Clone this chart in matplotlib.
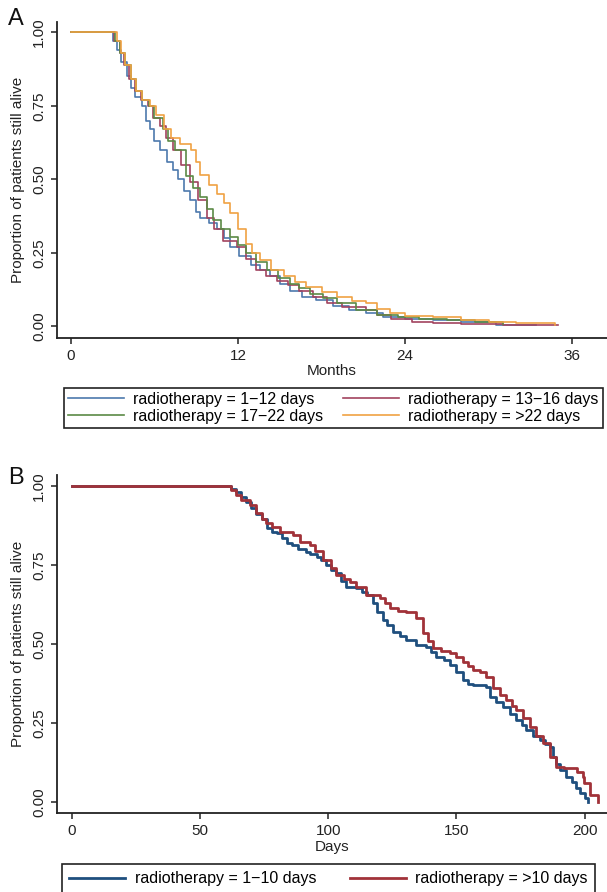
import numpy as np
import matplotlib
matplotlib.use('Agg')
import matplotlib.pyplot as plt

plt.rcParams['font.family'] = ['Liberation Sans', 'DejaVu Sans']

# ---- panel A: survival by radiotherapy duration, months ----
a_labels = ['radiotherapy = 1\u221212 days', 'radiotherapy = 13\u221216 days',
            'radiotherapy = 17\u221222 days', 'radiotherapy = >22 days']

a1_t = [0, 2.7, 3.0, 3.3, 3.6, 4.0, 4.3, 4.6, 5.1, 5.4, 5.7, 6.0, 6.4, 6.9, 7.35, 7.7, 8.1, 8.55,
        9.0, 9.3, 9.9, 10.5, 11.0, 11.4, 12.1, 12.9, 13.6, 14.3, 15.0, 15.7, 16.6, 17.6, 18.8,
        20.0, 21.2, 22.4, 24.0, 26.0, 28.0, 30.5, 33.4]
a1_s = [1.0, 1.0, 0.97, 0.94, 0.90, 0.85, 0.81, 0.78, 0.75, 0.70, 0.67, 0.63, 0.60, 0.56, 0.53,
        0.50, 0.46, 0.43, 0.39, 0.37, 0.35, 0.33, 0.30, 0.27, 0.24, 0.21, 0.19, 0.17, 0.145, 0.12,
        0.10, 0.09, 0.07, 0.055, 0.045, 0.033, 0.025, 0.02, 0.015, 0.005, 0.003]

a2_t = [0, 2.8, 3.1, 3.5, 3.8, 4.2, 4.6, 5.0, 5.5, 5.9, 6.4, 6.8, 7.35, 7.9, 8.55, 9.1, 9.75,
        10.3, 10.9, 11.9, 12.6, 13.3, 14.0, 14.8, 15.6, 16.4, 17.4, 18.4, 19.5, 21.2, 22.0, 23.0,
        24.5, 26.0, 28.0, 31.0, 35.0]
a2_s = [1.0, 1.0, 0.97, 0.93, 0.89, 0.84, 0.80, 0.77, 0.75, 0.71, 0.68, 0.64, 0.60, 0.55, 0.49,
        0.43, 0.37, 0.33, 0.29, 0.27, 0.23, 0.19, 0.17, 0.155, 0.14, 0.12, 0.10, 0.08, 0.065,
        0.055, 0.04, 0.025, 0.015, 0.012, 0.008, 0.005, 0.003]

a3_t = [0, 2.9, 3.2, 3.5, 3.9, 4.3, 4.7, 5.1, 5.6, 6.0, 6.6, 7.0, 7.5, 8.3, 8.8, 9.3, 9.8, 10.2,
        10.8, 11.4, 12.0, 12.6, 13.3, 14.1, 14.9, 15.7, 16.4, 17.2, 18.1, 19.1, 20.5, 22.0, 23.5,
        25.0, 27.0, 29.0, 31.0]
a3_s = [1.0, 1.0, 0.97, 0.93, 0.89, 0.84, 0.80, 0.77, 0.75, 0.71, 0.67, 0.63, 0.60, 0.51, 0.47,
        0.44, 0.40, 0.36, 0.33, 0.305, 0.275, 0.25, 0.22, 0.19, 0.165, 0.145, 0.13, 0.11, 0.095,
        0.08, 0.055, 0.04, 0.03, 0.025, 0.02, 0.015, 0.008]

a4_t = [0, 3.0, 3.3, 3.6, 3.9, 4.3, 4.7, 5.1, 5.7, 6.1, 6.7, 7.2, 7.8, 8.6, 9.0, 9.3, 9.9, 10.5,
        11.0, 11.4, 12.0, 12.6, 13.0, 13.6, 14.4, 15.3, 16.1, 16.9, 18.0, 19.1, 20.2, 21.2, 22.0,
        22.9, 24.0, 26.0, 28.0, 30.0, 32.0, 34.8]
a4_s = [1.0, 1.0, 0.97, 0.93, 0.89, 0.84, 0.80, 0.77, 0.75, 0.72, 0.67, 0.64, 0.62, 0.60, 0.56,
        0.515, 0.48, 0.45, 0.42, 0.385, 0.33, 0.28, 0.25, 0.225, 0.19, 0.17, 0.15, 0.135, 0.115,
        0.10, 0.085, 0.078, 0.06, 0.045, 0.035, 0.03, 0.02, 0.015, 0.01, 0.005]

# ---- panel B: survival by radiotherapy duration, days ----
b_labels = ['radiotherapy = 1\u221210 days', 'radiotherapy = >10 days']

b1_t = [0, 60.5, 62, 64, 66, 68, 70, 72, 74, 76, 78, 80, 82, 84, 86, 88, 91.5, 93, 95.5, 97,
        99.3, 101, 103.2, 105, 107, 111, 113, 115, 117.5, 119, 121.4, 123, 125.3, 128, 130.5,
        134.4, 138.3, 140, 142.2, 145, 147.4, 150, 152.6, 154.5, 156.5, 161.7, 163, 165.5,
        168.2, 171, 173.4, 175.5, 177.3, 180, 182.5, 184.5, 186.4, 187.6, 189, 190.3, 192.9,
        195, 196.5, 198.3, 200, 201.4]
b1_s = [1.0, 1.0, 0.99, 0.98, 0.965, 0.95, 0.93, 0.91, 0.895, 0.865, 0.855, 0.85, 0.835, 0.82,
        0.813, 0.80, 0.792, 0.785, 0.776, 0.765, 0.75, 0.735, 0.723, 0.70, 0.681, 0.676, 0.665,
        0.655, 0.628, 0.60, 0.576, 0.56, 0.539, 0.525, 0.513, 0.497, 0.491, 0.475, 0.46, 0.45,
        0.434, 0.41, 0.386, 0.375, 0.37, 0.365, 0.334, 0.318, 0.302, 0.28, 0.26, 0.245, 0.228,
        0.21, 0.197, 0.185, 0.176, 0.144, 0.12, 0.102, 0.081, 0.065, 0.045, 0.028, 0.012, 0.0]

b2_t = [0, 60, 62, 64, 66, 69.4, 72, 74, 75.9, 78, 81.1, 86.3, 88.9, 92.8, 95, 98, 101, 103.2,
        106, 108.4, 111, 114.9, 120.1, 122, 124, 127, 130.5, 134.4, 137, 139, 140.9, 144, 147.4,
        150, 152.6, 154.5, 156.5, 159, 161.7, 164.3, 167, 169.5, 171.5, 173.4, 176, 178.6, 181,
        183.7, 186.4, 189, 192, 196.9, 199.3, 199.8, 202, 205]
b2_s = [1.0, 1.0, 0.985, 0.97, 0.955, 0.939, 0.915, 0.895, 0.881, 0.87, 0.855, 0.844, 0.823,
        0.813, 0.795, 0.765, 0.74, 0.718, 0.705, 0.697, 0.68, 0.655, 0.644, 0.63, 0.613, 0.605,
        0.602, 0.581, 0.534, 0.51, 0.486, 0.478, 0.471, 0.46, 0.444, 0.43, 0.418, 0.41, 0.397,
        0.36, 0.34, 0.323, 0.305, 0.292, 0.265, 0.239, 0.21, 0.186, 0.144, 0.112, 0.108, 0.097,
        0.081, 0.06, 0.023, 0.0]

a_colors = ['#4d79ad', '#a2435f', '#5b8a45', '#f0a243']
b_colors = ['#1f4f7e', '#a13239']


def style_axes(ax):
    for s in ['top', 'right']:
        ax.spines[s].set_visible(False)
    for s in ['left', 'bottom']:
        ax.spines[s].set_linewidth(1.3)
        ax.spines[s].set_color('#222222')
    ax.tick_params(axis='both', direction='out', length=4.5, width=1.1,
                   color='#222222', labelsize=11, pad=3.5, labelcolor='#222222')
    ax.tick_params(axis='y', labelrotation=90)
    for lab in ax.get_yticklabels():
        lab.set_va('center')
    ax.set_ylabel('Proportion of patients still alive', fontsize=11, color='#222222')
    ax.yaxis.set_label_coords(-0.058, 0.5)


fig = plt.figure(figsize=(6.07, 8.92), dpi=100)

# panel A
axA = fig.add_axes([0.0939, 0.6214, 0.9061, 0.3539])
for t, s, c, lab in zip([a1_t, a2_t, a3_t, a4_t], [a1_s, a2_s, a3_s, a4_s], a_colors, a_labels):
    axA.step(t, s, where='post', color=c, lw=1.2, label=lab)
axA.set_xlim(-1.0, 38.5)
axA.set_ylim(-0.0388, 1.035)
axA.set_xticks([0, 12, 24, 36])
axA.set_yticks([0, 0.25, 0.5, 0.75, 1.0])
axA.set_yticklabels(['0.00', '0.25', '0.50', '0.75', '1.00'])
style_axes(axA)
axA.set_xlabel('Months', fontsize=11, color='#222222')
axA.xaxis.set_label_coords(0.5, -0.082)

hA, lA = axA.get_legend_handles_labels()
order = [0, 2, 1, 3]
legA = fig.legend([hA[i] for i in order], [lA[i] for i in order], ncol=2,
                  loc='upper left', bbox_to_anchor=(64 / 607, 1 - 387.7 / 892),
                  fontsize=11.5, handlelength=3.5, handletextpad=0.6, columnspacing=1.2,
                  labelspacing=0.12, borderpad=0.25, borderaxespad=0, fancybox=False,
                  edgecolor='#222222', framealpha=1)
legA.get_frame().set_linewidth(1.2)

# panel B
axB = fig.add_axes([0.0939, 0.0889, 0.9061, 0.3786])
for t, s, c, lab in zip([b1_t, b2_t], [b1_s, b2_s], b_colors, b_labels):
    axB.step(t, s, where='post', color=c, lw=2.0, label=lab)
axB.set_xlim(-5.8, 208.7)
axB.set_ylim(-0.033, 1.034)
axB.set_xticks([0, 50, 100, 150, 200])
axB.set_yticks([0, 0.25, 0.5, 0.75, 1.0])
axB.set_yticklabels(['0.00', '0.25', '0.50', '0.75', '1.00'])
style_axes(axB)
axB.set_xlabel('Days', fontsize=11, color='#222222')
axB.xaxis.set_label_coords(0.5, -0.082)

legB = fig.legend(*axB.get_legend_handles_labels(), ncol=2,
                  loc='upper left', bbox_to_anchor=(62 / 607, 1 - 864 / 892),
                  fontsize=11.5, handlelength=3.5, handletextpad=0.6, columnspacing=2.1,
                  borderpad=0.45, borderaxespad=0, fancybox=False,
                  edgecolor='#222222', framealpha=1)
legB.get_frame().set_linewidth(1.2)

fig.text(0.013, 0.991, 'A', fontsize=17, va='top', ha='left', color='#111111')
fig.text(0.013, 1 - 467 / 892, 'B', fontsize=17, va='top', ha='left', color='#111111')

fig.savefig('out.png', dpi=100)
